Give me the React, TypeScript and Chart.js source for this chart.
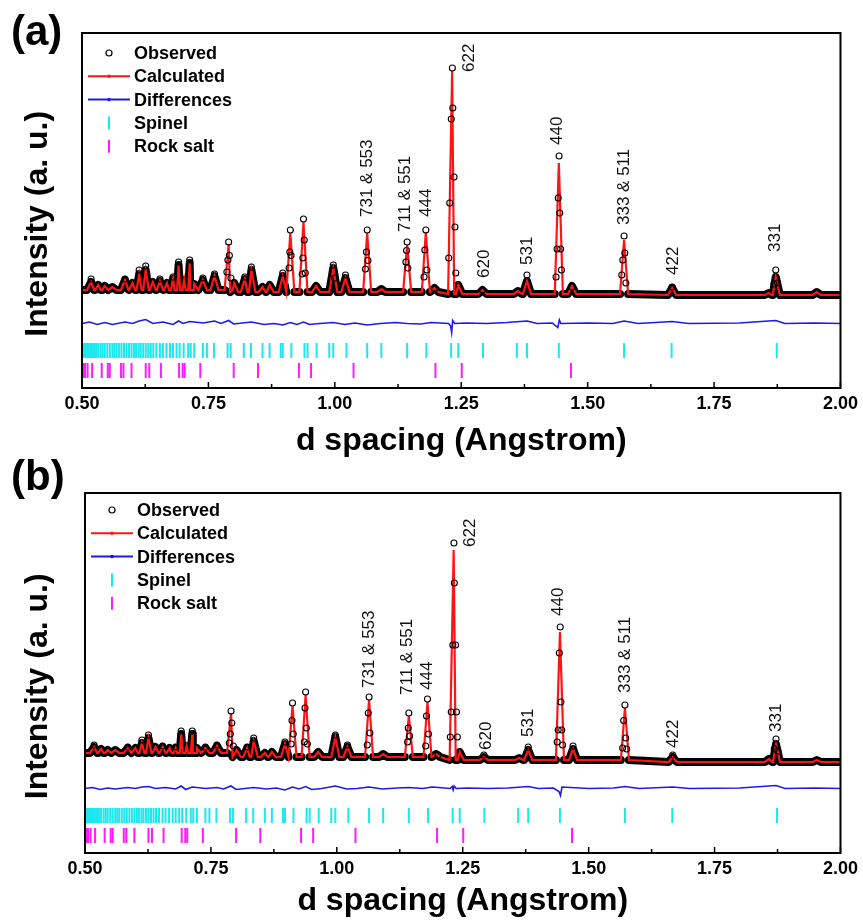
import React, { useEffect, useRef } from 'react';
import { Chart, registerables } from 'chart.js';

Chart.register(...registerables);

const FONT = '"Liberation Sans", Arial, Helvetica, sans-serif';
Chart.defaults.font.family = FONT;
Chart.defaults.color = '#000';

// ---------- data ----------
const xTickValues = [0.5, 0.75, 1.0, 1.25, 1.5, 1.75, 2.0];
const xMinorTicks = [0.625, 0.875, 1.125, 1.375, 1.625, 1.875];
const legendLabels = ['Observed', 'Calculated', 'Differences', 'Spinel', 'Rock salt'];

// peak positions (Angstrom) of the calculated profile
const peakD = [0.518, 0.532, 0.545, 0.560, 0.585, 0.600, 0.613, 0.626, 0.640, 0.654,
  0.668, 0.680, 0.691, 0.702, 0.713, 0.722, 0.739, 0.762, 0.790, 0.801,
  0.822, 0.835, 0.857, 0.871, 0.897, 0.912, 0.938, 0.963, 0.997, 1.021,
  1.064, 1.092, 1.143, 1.180, 1.197, 1.232, 1.244, 1.292, 1.362, 1.380,
  1.443, 1.469, 1.572, 1.667, 1.858, 1.872, 1.953];
// calculated peak heights above background (a.u.)
const calcA = [32, 20, 16, 12, 40, 28, 64, 80, 32, 36,
  28, 44, 100, 40, 108, 24, 40, 56, 184, 36,
  52, 88, 20, 28, 64, 236, 280, 24, 96, 56,
  236, 12, 188, 240, 16, 892, 36, 16, 12, 52,
  524, 32, 216, 28, 8, 72, 12];
const calcB = [24, 16, 12, 12, 20, 20, 40, 60, 24, 24,
  20, 20, 76, 28, 76, 20, 20, 28, 160, 28,
  36, 64, 16, 20, 52, 204, 248, 20, 80, 40,
  228, 12, 164, 220, 12, 840, 32, 12, 8, 40,
  512, 44, 208, 20, 12, 72, 8];
// background levels (a.u.) between the break positions
const bgBreaks = [0.8, 1.2, 1.6];
const bgLevelA = [12, 4, -4, -8];
const bgLevelB = [20, 4, -8, -16];

// observed points (circles) on the peaks
const obsDA = [0.518, 0.585, 0.613, 0.626, 0.654, 0.680, 0.691, 0.713, 0.739, 0.762,
  0.7865, 0.7885, 0.790, 0.7915, 0.7945, 0.822, 0.835, 0.897,
  0.9095, 0.911, 0.912, 0.9135, 0.9355, 0.9368, 0.938, 0.9395, 0.9415, 0.997, 0.9995, 1.021,
  1.0605, 1.0625, 1.064, 1.0655, 1.1405, 1.1418, 1.143, 1.1445, 1.1765, 1.178, 1.180, 1.182, 1.197,
  1.2253, 1.2272, 1.2303, 1.2325, 1.2333, 1.2358, 1.2376, 1.2393, 1.292, 1.380,
  1.4375, 1.4395, 1.4418, 1.4435, 1.4448, 1.4465, 1.4482, 1.469,
  1.5675, 1.5695, 1.572, 1.5735, 1.5755, 1.667, 1.8685, 1.872, 1.8755];
const obsIA = [56, 56, 92, 108, 56, 64, 124, 132, 60, 76,
  84, 132, 204, 150, 60, 64, 104, 80,
  100, 164, 252, 150, 76, 140, 296, 212, 80, 112, 60, 72,
  96, 164, 252, 130, 124, 170, 204, 100, 64, 172, 252, 92, 16,
  140, 360, 696, 900, 740, 464, 264, 80, 12, 72,
  64, 176, 380, 548, 320, 176, 92, 24,
  72, 132, 228, 160, 40, 24, 36, 92, 40];
const obsDB = [0.518, 0.585, 0.613, 0.626, 0.654, 0.680, 0.691, 0.713, 0.739, 0.762,
  0.7865, 0.7885, 0.790, 0.7915, 0.7945, 0.822, 0.835, 0.897,
  0.9095, 0.911, 0.912, 0.9135, 0.9355, 0.9368, 0.938, 0.9395, 0.9415, 0.997, 1.021,
  1.0605, 1.0625, 1.064, 1.0655, 1.1405, 1.1418, 1.143, 1.1445, 1.1765, 1.178, 1.180, 1.182, 1.201,
  1.2253, 1.2272, 1.2303, 1.2325, 1.2333, 1.2358, 1.2376, 1.2393, 1.292, 1.380,
  1.4375, 1.4395, 1.4418, 1.4435, 1.4448, 1.4465, 1.4482, 1.469,
  1.5675, 1.5695, 1.572, 1.5735, 1.5755, 1.667, 1.8685, 1.872, 1.8755];
const obsIB = [52, 44, 72, 92, 48, 44, 108, 108, 44, 52,
  60, 96, 188, 140, 48, 44, 80, 64,
  56, 150, 220, 96, 64, 200, 264, 120, 56, 92, 52,
  52, 180, 244, 100, 64, 120, 180, 88, 48, 168, 236, 96, 12,
  84, 184, 452, 860, 700, 452, 184, 84, 12, 44,
  64, 112, 420, 524, 224, 112, 52, 48,
  40, 150, 212, 80, 36, 12, 36, 76, 28];

// differences (obs - calc), a.u.
const diffD = [0.500, 0.515, 0.530, 0.545, 0.560, 0.585, 0.600, 0.613, 0.626, 0.640,
  0.660, 0.680, 0.691, 0.700, 0.713, 0.740, 0.762, 0.775, 0.790, 0.800,
  0.835, 0.860, 0.880, 0.897, 0.912, 0.925, 0.938, 0.950, 0.970, 0.997,
  1.020, 1.040, 1.064, 1.090, 1.120, 1.143, 1.170, 1.190, 1.225, 1.229,
  1.231, 1.233, 1.237, 1.260, 1.300, 1.340, 1.380, 1.400, 1.430, 1.441,
  1.444, 1.447, 1.500, 1.550, 1.572, 1.600, 1.667, 1.700, 1.800, 1.872,
  1.890, 1.950, 2.000];
const diffA = [0, 6, -4, 4, -4, 6, 0, 10, 16, 0,
  6, -4, 10, 0, 8, 2, 10, 0, 12, -2,
  6, -4, 0, -6, 4, -4, 6, -4, 0, 4,
  -4, 2, -6, 0, 4, 0, -2, 4, 0, -10,
  -36, 12, 0, 2, 0, 4, 10, 0, 2, -16,
  14, 0, 2, 0, 10, 0, 8, 0, 2, 12,
  0, 2, 0];
const diffB = [0, 4, -4, 2, -2, 4, 0, 6, 8, 0,
  4, -2, 10, -4, 6, 0, 4, -2, 10, -4,
  4, -2, 2, -6, 6, -2, 8, -4, 0, 10,
  -2, 0, 6, -2, 2, 4, 0, 6, 0, 8,
  -6, 10, 0, 2, 0, 2, 8, 0, 2, -12,
  -28, 6, 0, 2, 8, 0, 6, 0, 2, 12,
  0, 2, 0];

// reflection positions (Angstrom)
const spinelD = [0.501, 0.504, 0.507, 0.510, 0.513, 0.516, 0.519, 0.522, 0.525, 0.528,
  0.532, 0.537, 0.541, 0.545, 0.550, 0.555, 0.560, 0.564, 0.568, 0.573,
  0.578, 0.583, 0.588, 0.593, 0.598, 0.603, 0.607, 0.612, 0.616, 0.621,
  0.626, 0.631, 0.636, 0.641, 0.647, 0.654, 0.660, 0.667, 0.674, 0.680,
  0.687, 0.693, 0.701, 0.710, 0.715, 0.722, 0.739, 0.747, 0.761, 0.788,
  0.794, 0.820, 0.834, 0.857, 0.871, 0.893, 0.897, 0.914, 0.940, 0.946,
  0.964, 0.989, 0.997, 1.023, 1.064, 1.092, 1.143, 1.181, 1.230, 1.244,
  1.293, 1.360, 1.380, 1.443, 1.572, 1.666, 1.874];
const rockSaltD = [0.502, 0.506, 0.511, 0.520, 0.539, 0.551, 0.555, 0.577, 0.582, 0.598,
  0.626, 0.633, 0.656, 0.692, 0.699, 0.703, 0.734, 0.800, 0.848, 0.929,
  0.953, 1.037, 1.199, 1.251, 1.467];

// peak annotations
const labelText = ['731 & 553', '711 & 551', '444', '622', '620', '531', '440', '333 & 511', '422', '331'];
const labelD = [1.064, 1.143, 1.180, 1.232, 1.292, 1.380, 1.443, 1.572, 1.667, 1.872];
const labelIA = [304, 244, 304, 884, 60, 112, 592, 272, 72, 164];
const labelIB = [280, 252, 272, 844, 32, 84, 568, 260, 40, 104];

// ---------- layout / style constants ----------
const W = 863;
const H = 460;
const UNIT = 4; // a.u. per pixel
const DIFF_OFFSET = -122;
const SPINEL_OFFSET = -230;
const ROCK_OFFSET = -310;
const HALF_WIDTH = 0.008;
const labelDx = [0, -2, 0, 17, 2, 0, -2, 0, 1, 0];

const panels = [
  { letter: '(a)', top: 0, letterTop: 10, area: { left: 82, right: 842, top: 33, bottom: 388 }, basePx: 293,
    calc: calcA, levels: bgLevelA, obsD: obsDA, obsI: obsIA, diff: diffA, labelI: labelIA, legendTop: 20 },
  { letter: '(b)', top: 460, letterTop: -5, area: { left: 85, right: 843, top: 33, bottom: 393 }, basePx: 298,
    calc: calcB, levels: bgLevelB, obsD: obsDB, obsI: obsIB, diff: diffB, labelI: labelIB, legendTop: 17 },
];

type PanelCfg = typeof panels[number];

function levelAt(d: number, levels: number[]) {
  let i = 0;
  while (i < bgBreaks.length && d >= bgBreaks[i]) i++;
  return levels[i];
}

function profile(heights: number[], levels: number[]) {
  const pts: { x: number; y: number }[] = [{ x: 0.5, y: levelAt(0.5, levels) }];
  peakD.forEach((d, i) => {
    const b = levelAt(d, levels);
    pts.push({ x: d - HALF_WIDTH, y: b }, { x: d, y: b + heights[i] }, { x: d + HALF_WIDTH, y: b });
  });
  pts.push({ x: 2.0, y: levelAt(2.0, levels) });
  return pts.sort((p, q) => p.x - q.x);
}

function makeDecor(cfg: PanelCfg) {
  return {
    id: 'decor',
    afterDatasetsDraw(chart: any) {
      const { ctx, chartArea: a, scales } = chart;
      const xs = scales.x;
      const ys = scales.y;
      ctx.save();
      // frame
      ctx.strokeStyle = '#000';
      ctx.lineWidth = 2;
      ctx.strokeRect(a.left, a.top, a.right - a.left, a.bottom - a.top);
      // inner ticks
      ctx.lineWidth = 1.5;
      const tick = (v: number, len: number) => {
        const px = xs.getPixelForValue(v);
        ctx.beginPath();
        ctx.moveTo(px, a.bottom);
        ctx.lineTo(px, a.bottom - len);
        ctx.stroke();
      };
      xTickValues.forEach((v) => tick(v, 6));
      xMinorTicks.forEach((v) => tick(v, 4));
      // peak labels
      ctx.font = `17px ${FONT}`;
      ctx.fillStyle = '#111';
      ctx.textAlign = 'left';
      ctx.textBaseline = 'middle';
      labelD.forEach((d, i) => {
        const px = xs.getPixelForValue(d) + labelDx[i];
        const py = ys.getPixelForValue(cfg.labelI[i]);
        ctx.save();
        ctx.translate(px, py);
        ctx.rotate(-Math.PI / 2);
        ctx.fillText(labelText[i], 0, 0);
        ctx.restore();
      });
      // legend
      const ds = chart.data.datasets;
      const cx = a.left + 27;
      legendLabels.forEach((lab, i) => {
        const y = a.top + cfg.legendTop + i * 23.3;
        const d = ds[i];
        ctx.save();
        if (i === 0) {
          ctx.strokeStyle = d.pointBorderColor;
          ctx.lineWidth = 1.2;
          ctx.beginPath();
          ctx.arc(cx, y, 3, 0, Math.PI * 2);
          ctx.stroke();
        } else if (i === 1 || i === 2) {
          ctx.strokeStyle = d.borderColor;
          ctx.lineWidth = 2;
          ctx.beginPath();
          ctx.moveTo(cx - 21, y);
          ctx.lineTo(cx + 21, y);
          ctx.stroke();
          ctx.fillStyle = d.borderColor;
          ctx.beginPath();
          ctx.arc(cx, y, 1.8, 0, Math.PI * 2);
          ctx.fill();
        } else {
          ctx.strokeStyle = d.pointBorderColor;
          ctx.lineWidth = 2;
          ctx.beginPath();
          ctx.moveTo(cx, y - 6.5);
          ctx.lineTo(cx, y + 6.5);
          ctx.stroke();
        }
        ctx.restore();
        ctx.font = `bold 18px ${FONT}`;
        ctx.fillStyle = '#000';
        ctx.textAlign = 'left';
        ctx.textBaseline = 'middle';
        ctx.fillText(lab, a.left + 52, y + 1);
      });
      ctx.restore();
    },
  };
}

function buildConfig(cfg: PanelCfg): any {
  const { area } = cfg;
  const yMin = -(area.bottom - cfg.basePx) * UNIT;
  const yMax = (cfg.basePx - area.top) * UNIT;
  const calcPts = profile(cfg.calc, cfg.levels);
  const obsPts = cfg.obsD.map((d, i) => ({ x: d, y: cfg.obsI[i] })).sort((p, q) => p.x - q.x);
  const diffPts = diffD.map((d, i) => ({ x: d, y: DIFF_OFFSET + cfg.diff[i] }));
  const spinelPts = spinelD.map((d) => ({ x: d, y: SPINEL_OFFSET }));
  const rockPts = rockSaltD.map((d) => ({ x: d, y: ROCK_OFFSET }));
  return {
    type: 'scatter',
    data: {
      datasets: [
        { label: legendLabels[0], data: obsPts, showLine: false, pointStyle: 'circle', pointRadius: 3,
          pointBorderColor: '#000', pointBackgroundColor: 'rgba(255,255,255,0)', pointBorderWidth: 1.1, order: 0 },
        { label: legendLabels[1], data: calcPts, showLine: true, borderColor: '#ff1414', borderWidth: 2.2,
          pointRadius: 0, order: 1 },
        { label: legendLabels[2], data: diffPts, showLine: true, borderColor: '#1c1ce0', borderWidth: 1.6,
          pointRadius: 0, order: 2 },
        { label: legendLabels[3], data: spinelPts, showLine: false, pointStyle: 'line', pointRotation: 90,
          pointRadius: 7.5, pointBorderColor: '#1ae8f0', pointBorderWidth: 2, order: 3 },
        { label: legendLabels[4], data: rockPts, showLine: false, pointStyle: 'line', pointRotation: 90,
          pointRadius: 7.5, pointBorderColor: '#ff1aff', pointBorderWidth: 2, order: 4 },
        { label: 'observed band', data: calcPts.map((p) => ({ ...p })), showLine: true, borderColor: '#000',
          borderWidth: 8, borderCapStyle: 'round', borderJoinStyle: 'round', pointRadius: 0, order: 10,
          segment: {
            borderColor: (c: any) => (Math.max(c.p0.parsed.y, c.p1.parsed.y) > 130 ? 'rgba(0,0,0,0)' : '#000'),
          } },
      ],
    },
    options: {
      animation: false,
      responsive: false,
      maintainAspectRatio: false,
      layout: { padding: { left: 0, top: area.top, right: W - area.right, bottom: 0 } },
      plugins: { legend: { display: false }, tooltip: { enabled: false } },
      scales: {
        x: {
          type: 'linear', min: 0.5, max: 2.0,
          afterFit: (s: any) => { s.height = H - area.bottom; },
          afterBuildTicks: (s: any) => { s.ticks = xTickValues.map((v) => ({ value: v })); },
          ticks: { callback: (v: any) => Number(v).toFixed(2), font: { size: 18, weight: 'bold' }, color: '#000',
            padding: 5, maxRotation: 0, autoSkip: false },
          grid: { display: false, drawTicks: false },
          border: { display: false },
          title: { display: true, text: 'd spacing (Angstrom)', font: { size: 32, weight: 'bold' }, color: '#000',
            padding: { top: 0, bottom: 0 } },
        },
        y: {
          type: 'linear', min: yMin, max: yMax,
          afterFit: (s: any) => { s.width = area.left; },
          ticks: { display: false },
          grid: { display: false, drawTicks: false },
          border: { display: false },
          title: { display: true, text: 'Intensity (a. u.)   ', font: { size: 32, weight: 'bold' }, color: '#000',
            padding: { top: 19, bottom: 0 } },
        },
      },
    },
    plugins: [makeDecor(cfg)],
  };
}

function Panel({ cfg }: { cfg: PanelCfg }) {
  const ref = useRef<HTMLCanvasElement>(null);
  useEffect(() => {
    const chart = new Chart(ref.current as HTMLCanvasElement, buildConfig(cfg));
    return () => chart.destroy();
  }, [cfg]);
  return (
    <div style={{ position: 'absolute', left: 0, top: cfg.top, width: W, height: H }}>
      <canvas ref={ref} width={W} height={H} style={{ display: 'block', width: W, height: H }} />
      <div style={{ position: 'absolute', left: 11, top: cfg.letterTop, font: `bold 42px ${FONT}`, lineHeight: 1, color: '#000' }}>
        {cfg.letter}
      </div>
    </div>
  );
}

export default function App() {
  return (
    <div style={{ position: 'absolute', left: 0, top: 0, width: W, height: 920, background: '#fff', overflow: 'hidden' }}>
      {panels.map((p) => (
        <Panel key={p.letter} cfg={p} />
      ))}
    </div>
  );
}
